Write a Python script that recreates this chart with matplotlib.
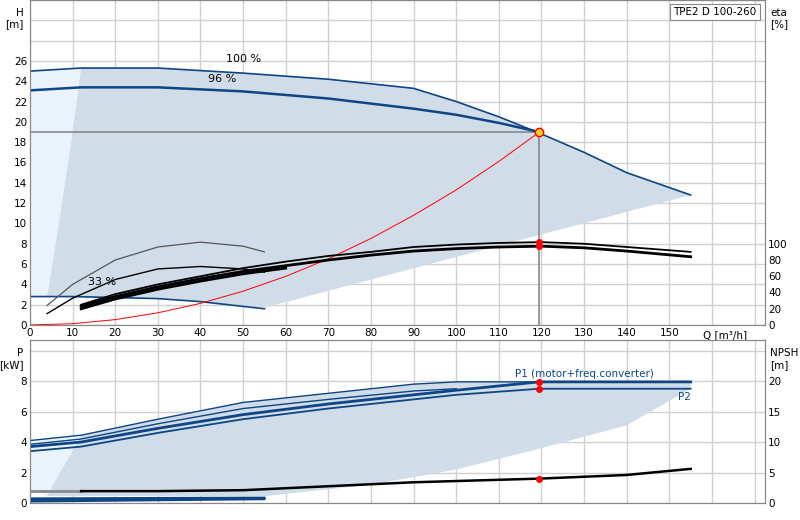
import matplotlib
matplotlib.use("Agg")
import matplotlib.pyplot as plt

# --- data ---
q100 = [0, 12, 30, 50, 70, 90, 100, 110, 119.5, 130, 140, 155]
h100 = [25.0, 25.3, 25.3, 24.8, 24.2, 23.3, 22.0, 20.5, 18.9, 17.0, 15.0, 12.8]
q96 = [0, 12, 30, 50, 70, 90, 100, 110, 119.5]
h96 = [23.1, 23.4, 23.4, 23.0, 22.3, 21.3, 20.7, 19.9, 19.0]
q33 = [0, 10, 30, 40, 55]
h33 = [2.8, 2.8, 2.6, 2.3, 1.6]
q_low = [55, 155]
h_low = [1.7, 12.8]
q_left = [12, 10, 7.5, 4.5, 4]
h_left = [25.3, 19, 12, 4, 2.8]
q_sys = [0, 10, 20, 30, 40, 50, 60, 70, 80, 90, 100, 110, 119.5]
h_sys = [0, 0.13, 0.53, 1.2, 2.13, 3.33, 4.79, 6.52, 8.52, 10.8, 13.3, 16.1, 19.0]
q_eta = [12, 20, 30, 40, 50, 60, 70, 80, 90, 100, 110, 120, 130, 140, 155]
eta_a = [25, 38, 50, 60, 70, 78, 85, 90, 96, 99, 101, 102, 100, 96, 90]
eta_b = [23, 35, 47, 57, 66, 73, 80, 86, 91, 94, 96, 97, 95, 91, 84]
q_er = [4, 10, 20, 30, 40, 50, 55]
eta_r1 = [24, 50, 80, 96, 102, 97, 90]
eta_r2 = [14, 33, 56, 69, 72, 69, 65]
duty_q, duty_h = 119.5, 19.0
duty_eta = [97, 102]

qp = [0, 12, 30, 50, 70, 90, 100, 119.5, 155]
p1a = [4.1, 4.45, 5.5, 6.6, 7.2, 7.8, 7.95, 7.95, 7.95]
p1b = [3.85, 4.2, 5.2, 6.2, 6.8, 7.35, 7.5, 7.5, 7.5]
p1 = [3.7, 4.0, 4.9, 5.8, 6.5, 7.1, 7.4, 7.95, 7.95]
p2 = [3.4, 3.7, 4.6, 5.5, 6.2, 6.8, 7.1, 7.5, 7.5]
qp_low = [55, 80, 100, 120, 140, 155]
pp_low = [0.45, 1.2, 2.2, 3.6, 5.1, 7.5]
qp_left = [4, 7, 10, 12]
pp_left = [0.45, 2.0, 3.4, 4.45]
q_npsh = [12, 30, 50, 70, 90, 119.5, 140, 155]
npsh = [1.95, 1.95, 2.1, 2.75, 3.4, 4.0, 4.6, 5.6]
q_pr = [0, 55]
p_r = [[0.3, 0.35], [0.2, 0.3], [0.1, 0.25]]
duty_p = [7.95, 7.5]
duty_npsh = 4.0

BLUE = '#0e4584'
SHADE = '#d0dce7'
LIGHT = '#eaf3fc'

fig = plt.figure(figsize=(8, 5.2), dpi=100)
ax = fig.add_axes([0.0375, 0.375, 0.919, 0.625])
ax.set_xlim(0, 172.5); ax.set_ylim(0, 32)
ax.fill([0, 12] + q_left + [4, 0], [25, 25.3] + h_left + [2.8, 2.8], color=LIGHT, lw=0, zorder=1)
ax.fill(q100[1:] + q_low[::-1] + q33[::-1][1:3] + q_left[::-1], h100[1:] + h_low[::-1] + h33[::-1][1:3] + h_left[::-1],
        color=SHADE, lw=0, zorder=1)
ax.plot(q100, h100, color=BLUE, lw=1.2, zorder=3)
ax.plot(q96, h96, color=BLUE, lw=1.8, zorder=3)
ax.plot(q33, h33, color=BLUE, lw=1.2, zorder=3)
ax.plot(q_sys, h_sys, color='red', lw=0.7, zorder=3)
ax.plot([0, duty_q], [duty_h, duty_h], color='#888888', lw=1.2, zorder=2)
ax.plot([duty_q, duty_q], [0, duty_h], color='#888888', lw=1.2, zorder=2)
ax.text(50, 25.9, '100 %', ha='center', fontsize=8)
ax.text(45, 23.9, '96 %', ha='center', fontsize=8)
ax.text(17, 3.9, '33 %', ha='center', fontsize=8)
ax.plot([duty_q], [duty_h], 'o', ms=6, mfc='#ffd21a', mec='red', mew=1, zorder=6)
ax.set_xticks(range(0, 171, 10))
ax.set_xticklabels([str(v) if v <= 150 else '' for v in range(0, 171, 10)], fontsize=7.5)
ax.set_yticks(range(0, 33, 2))
ax.set_yticklabels([str(v) if v <= 26 else '' for v in range(0, 33, 2)], fontsize=7.5)
ax.grid(True, color='#d0d0d0', lw=1)
ax.set_axisbelow(True)
ax.tick_params(length=0, pad=2)
for s in ax.spines.values():
    s.set_color('#888888')
ax.text(163, -1.0, 'Q [m³/h]', fontsize=7.5, ha='center', va='center')
fig.text(0.0375 - 0.008, 0.985, 'H\n[m]', ha='right', va='top', fontsize=7.5)
fig.text(0.963, 0.985, 'eta\n[%]', ha='left', va='top', fontsize=7.5)
ax.text(170.5, 31.3, 'TPE2 D 100-260', ha='right', va='top', fontsize=7.5,
        bbox=dict(boxstyle='square,pad=0.3', fc='white', ec='#888888', lw=0.8))

ax2 = ax.twinx()
ax2.set_ylim(0, 400)
ax2.set_yticks(range(0, 101, 20))
ax2.tick_params(length=0, labelsize=7.5, pad=2)
ax2.plot(q_er, eta_r1, color='#555555', lw=0.9, zorder=3)
ax2.plot(q_er, eta_r2, color='black', lw=1.0, zorder=3)
ax2.plot(q_eta, eta_a, color='black', lw=1.3, zorder=3)
ax2.plot(q_eta, eta_b, color='black', lw=2.0, zorder=3)
ax2.plot(q_eta[:6], [e - 3 for e in eta_b[:6]], color='black', lw=2.0, zorder=3)
ax2.plot([duty_q, duty_q], duty_eta, 'o', ms=4, color='red', zorder=6)
for s in ax2.spines.values():
    s.set_color('#888888')

# ---- bottom ----
bx = fig.add_axes([0.0375, 0.0327, 0.919, 0.3135])
bx.set_xlim(0, 172.5); bx.set_ylim(0, 10.7)
bx.fill([0, 12] + qp_left[::-1] + [2, 0], [4.1, 4.45] + pp_left[::-1] + [0.8, 0.8], color=LIGHT, lw=0, zorder=1)
bx.fill(qp[1:] + qp_low[::-1] + qp_left, p1a[1:] + pp_low[::-1] + pp_left, color=SHADE, lw=0, zorder=1)
bx.plot(qp, p1a, color=BLUE, lw=1.0, zorder=3)
bx.plot(qp[:7], p1b[:7], color=BLUE, lw=1.0, zorder=3)
bx.plot(qp, p1, color=BLUE, lw=2.0, zorder=3)
bx.plot(qp, p2, color=BLUE, lw=1.3, zorder=3)
for pr in p_r:
    bx.plot(q_pr, pr, color=BLUE, lw=1.5, zorder=3)
bx.plot([duty_q, duty_q], duty_p, 'o', ms=4, color='red', zorder=6)
bx.text(130, 8.15, 'P1 (motor+freq.converter)', color=BLUE, fontsize=7.5, ha='center', va='bottom')
bx.text(152, 7.3, 'P2', color=BLUE, fontsize=7.5, ha='left', va='top')
bx.set_xticks(range(0, 171, 10)); bx.set_xticklabels([])
bx.set_yticks(range(0, 11, 2))
bx.set_yticklabels([str(v) if v <= 8 else '' for v in range(0, 11, 2)], fontsize=7.5)
bx.grid(True, color='#d0d0d0', lw=1)
bx.set_axisbelow(True)
bx.tick_params(length=0, pad=2)
for s in bx.spines.values():
    s.set_color('#888888')
fig.text(0.0375 - 0.008, 0.33, 'P\n[kW]', ha='right', va='top', fontsize=7.5)
fig.text(0.963, 0.33, 'NPSH\n[m]', ha='left', va='top', fontsize=7.5)

bx2 = bx.twinx()
bx2.set_ylim(0, 26.75)
bx2.set_yticks(range(0, 21, 5))
bx2.tick_params(length=0, labelsize=7.5, pad=2)
bx2.plot([0, 12], [2.0, 2.0], color='#888888', lw=2, zorder=3)
bx2.plot(q_npsh, npsh, color='black', lw=1.8, zorder=3)
bx2.plot([duty_q], [duty_npsh], 'o', ms=4, color='red', zorder=6)
for s in bx2.spines.values():
    s.set_color('#888888')

fig.savefig('out.png', dpi=100)
